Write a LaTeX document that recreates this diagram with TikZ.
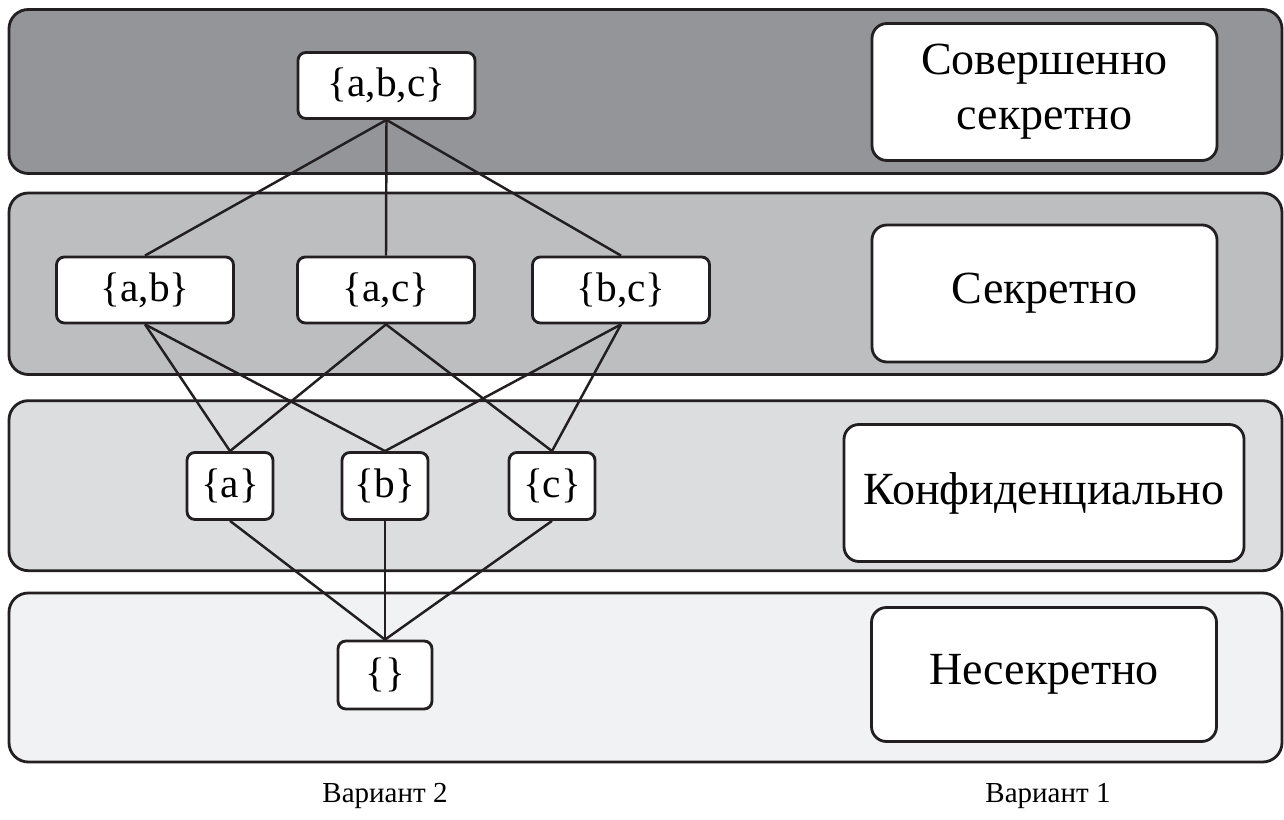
\documentclass[tikz,border=0pt]{standalone}
\usepackage{fontspec}
\setmainfont{Liberation Serif}
\definecolor{ink}{HTML}{231F20}
\definecolor{lvlA}{HTML}{939598}
\definecolor{lvlB}{HTML}{BCBEC0}
\definecolor{lvlC}{HTML}{DCDDDF}
\definecolor{lvlD}{HTML}{F1F2F3}
\begin{document}
\begin{tikzpicture}[x=0.2mm, y=-0.2mm,
  level/.style={draw=ink, line width=1.6pt, rounded corners=11pt, minimum width=254.6mm, inner sep=0pt},
  setnode/.style={draw=ink, fill=white, line width=1.6pt, rounded corners=4.5pt, minimum width=35.4mm, minimum height=13.2mm, inner sep=0pt, font=\fontsize{23.5}{26}\selectfont},
  single/.style={setnode, minimum width=17.2mm, minimum height=13.4mm},
  tag/.style={draw=ink, fill=white, line width=1.6pt, rounded corners=8.5pt, minimum width=69mm, minimum height=27.4mm, inner sep=0pt, align=center, font=\fontsize{26.2}{31.3}\selectfont},
  link/.style={draw=ink, line width=1.4pt}]
\useasboundingbox (0,0) rectangle (1284,820);

% Levels
\node[level, fill=lvlA, minimum height=32.8mm] (band1) at (645.5,91.5) {};
\node[level, fill=lvlB, minimum height=36.3mm] (band2) at (645.5,283.75) {};
\node[level, fill=lvlC, minimum height=34mm] (band3) at (645.5,485.7) {};
\node[level, fill=lvlD, minimum height=33.8mm] (band4) at (645.5,677.5) {};

% Variant 1
\node[tag] (top) at (1044.5,92) {Совершенно\\секретно};
\node[tag] (secret) at (1044.5,293.5) {Секретно};
\node[tag, minimum width=80mm] (conf) at (1044,493) {Конфиденциально};
\node[tag, minimum height=26.8mm] (open) at (1044,674.5) {Несекретно};

% Variant 2
\node[setnode] (abc) at (386.5,85.5) {\{a,b,c\}};
\node[setnode] (ab) at (145,290) {\{a,b\}};
\node[setnode] (ac) at (386,290) {\{a,c\}};
\node[setnode] (bc) at (621,290) {\{b,c\}};
\node[single] (a) at (230,486) {\{a\}};
\node[single] (b) at (385,486) {\{b\}};
\node[single] (c) at (552,486) {\{c\}};
\node[single, minimum width=18.8mm, minimum height=13.6mm] (none) at (385,675) {\{\}};

% Lattice
\draw[link] (abc.south) -- (ab.north);
\draw[link] (abc.south) -- (ac.north);
\draw[link] (abc.south) -- (bc.north);
\draw[link] (ab.south) -- (a.north);
\draw[link] (ab.south) -- (b.north);
\draw[link] (ac.south) -- (a.north);
\draw[link] (ac.south) -- (c.north);
\draw[link] (bc.south) -- (b.north);
\draw[link] (bc.south) -- (c.north);
\draw[link] (a.south) -- (none.north);
\draw[link] (b.south) -- (none.north);
\draw[link] (c.south) -- (none.north);

% Captions
\node[font=\fontsize{16.5}{19}\selectfont] (cap2) at (385,796) {Вариант 2};
\node[font=\fontsize{16.5}{19}\selectfont] (cap1) at (1048,796) {Вариант 1};
\end{tikzpicture}
\end{document}
